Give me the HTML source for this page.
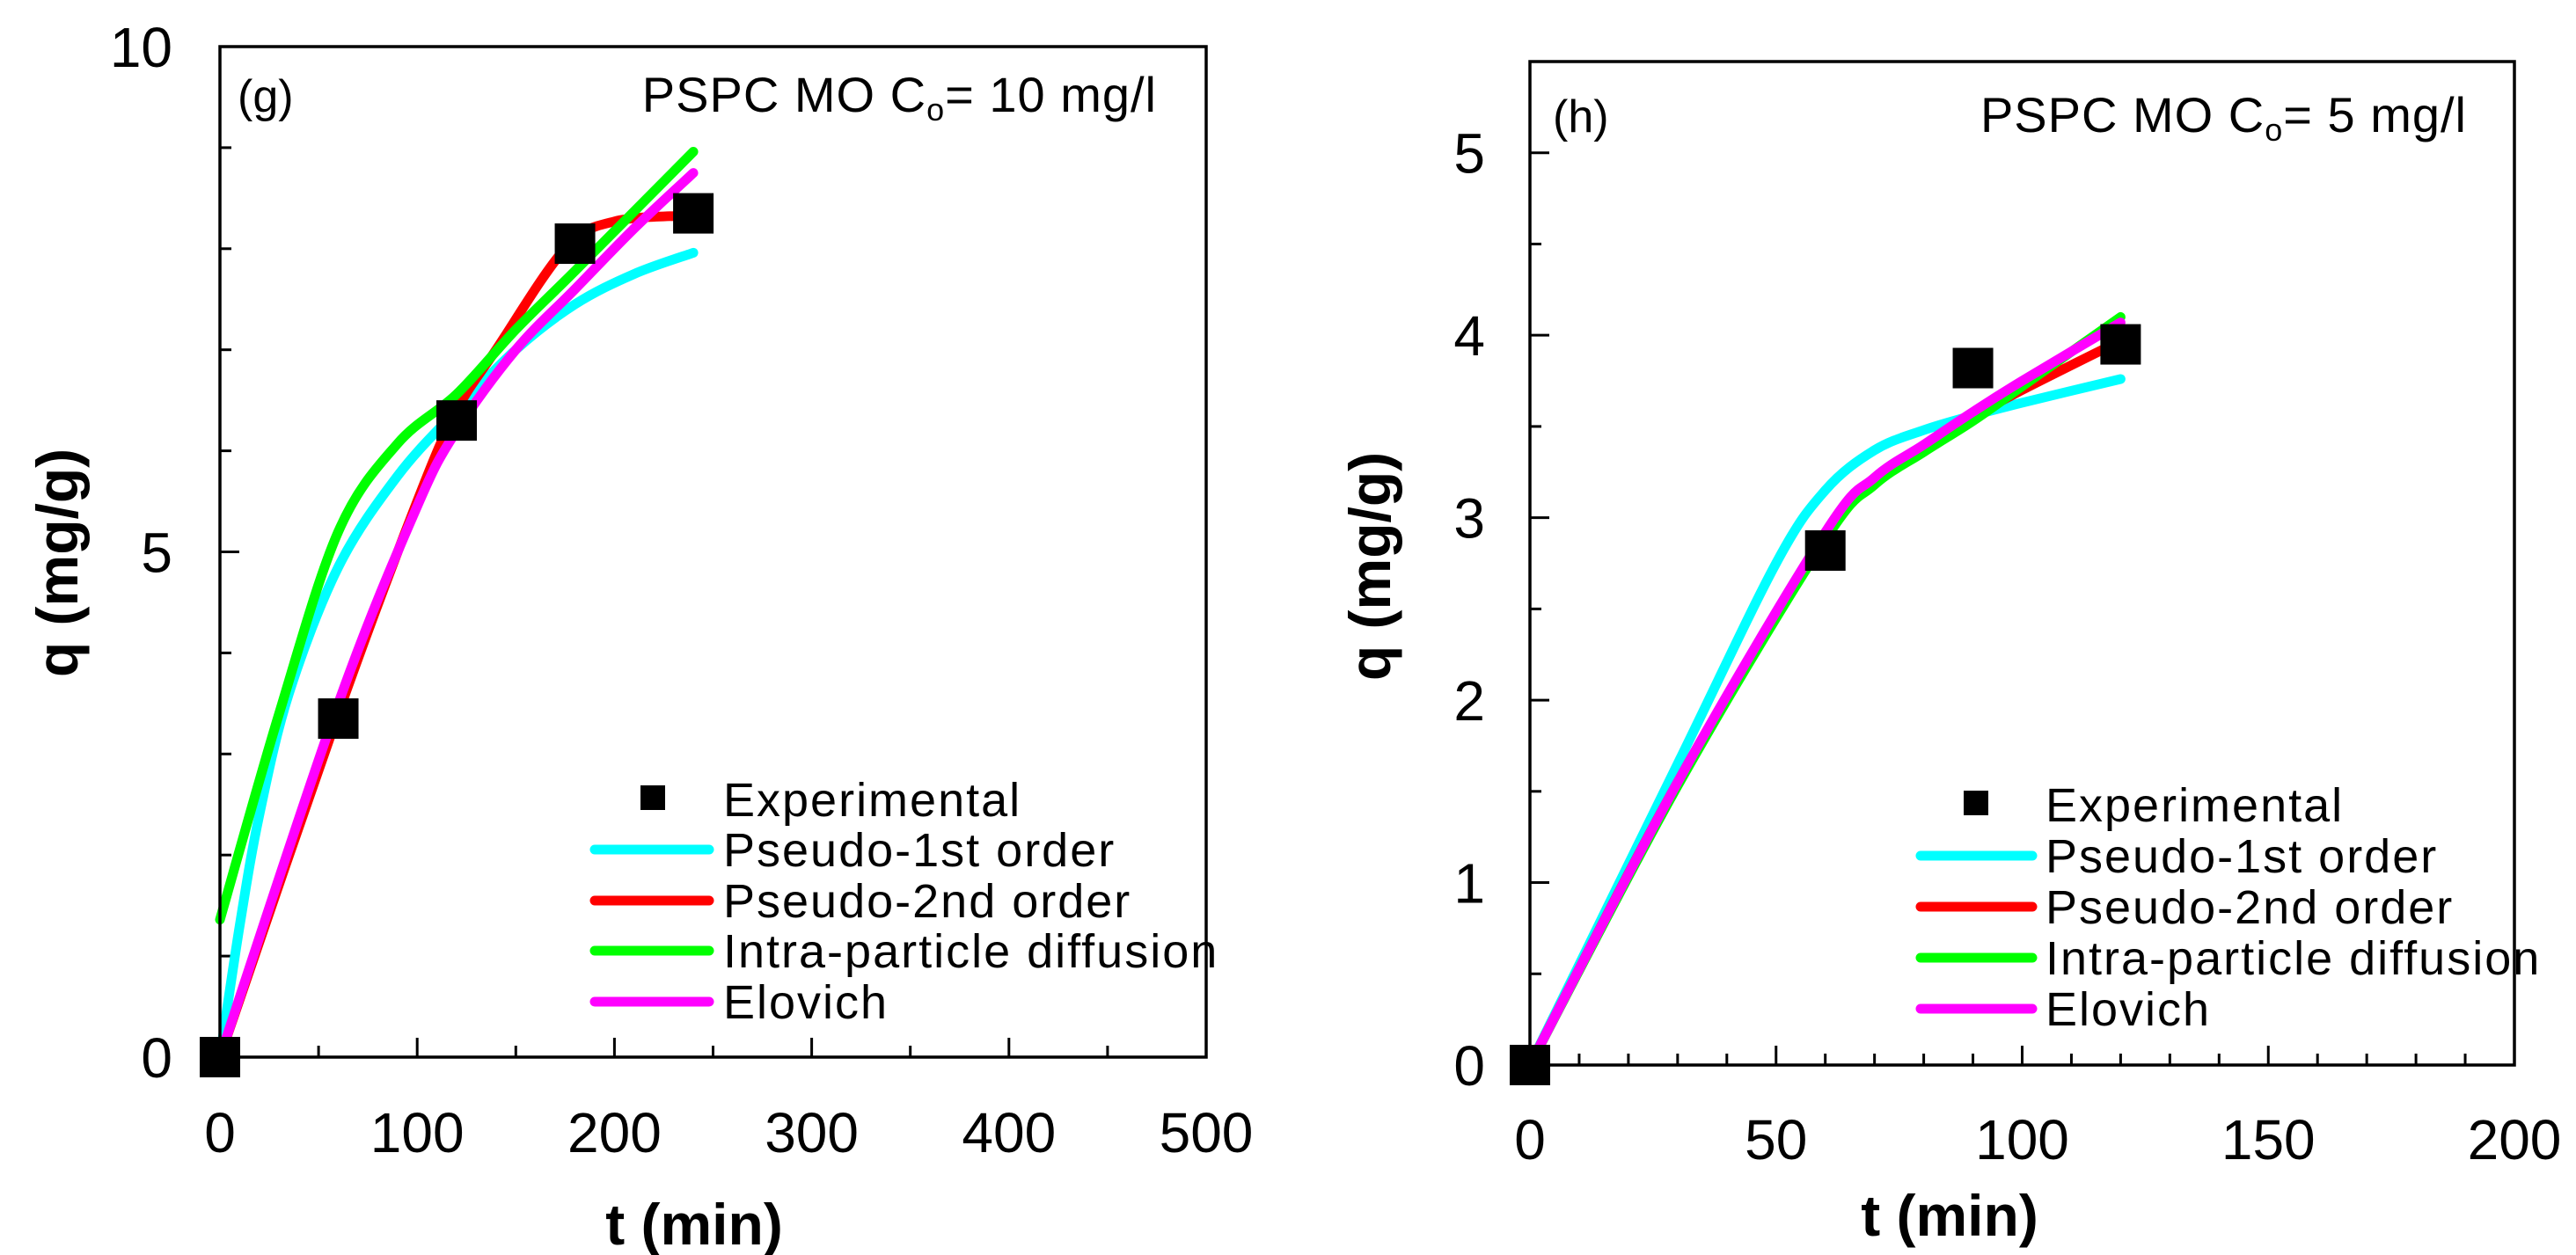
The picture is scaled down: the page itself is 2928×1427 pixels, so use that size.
<!DOCTYPE html>
<html><head><meta charset="utf-8"><style>
html,body{margin:0;padding:0;background:#fff}
svg{display:block;font-family:"Liberation Sans",Arial,sans-serif}
</style></head><body>
<svg id="c" width="2928" height="1427" viewBox="0 0 2928 1427" xmlns="http://www.w3.org/2000/svg"></svg>
<script>
// ---- Panel g data ----
const gExpT=[0,60,120,180,240];
const gExpQ=[0,3.35,6.3,8.05,8.35];
const gPfoT=[0,10,20,35,60,90,120,150,180,210,240];
const gPfoQ=[0,1.3,2.4,3.6,4.85,5.75,6.4,7.0,7.45,7.75,7.96];
const gPsoT=[0,60,100,120,140,175,200,240];
const gPsoQ=[0,3.4,5.5,6.4,7.0,8.0,8.27,8.33];
const gIpdT=[0,30,60,90,120,150,180,240];
const gIpdQ=[1.36,3.4,5.2,6.07,6.56,7.2,7.78,8.96];
const gElvT=[0,60,100,120,150,180,210,240];
const gElvQ=[0,3.5,5.45,6.2,7.0,7.6,8.2,8.75];
const gXTicks=[0,100,200,300,400,500];
const gYTicks=[0,5,10];
// ---- Panel h data ----
const hExpT=[0,60,90,120];
const hExpQ=[0,2.82,3.82,3.95];
const hPfoT=[0,30,50,60,70,80,90,100,120];
const hPfoQ=[0,1.65,2.75,3.15,3.37,3.48,3.56,3.63,3.76];
const hPsoT=[0,30,60,70,80,90,100,120];
const hPsoQ=[0,1.55,2.9,3.2,3.38,3.55,3.7,3.97];
const hIpdT=[0,30,60,70,80,90,100,120];
const hIpdQ=[0,1.53,2.88,3.18,3.36,3.53,3.72,4.1];
const hElvT=[0,30,60,70,80,90,100,120];
const hElvQ=[0,1.55,2.92,3.22,3.4,3.58,3.75,4.07];
const hXTicks=[0,50,100,150,200];
const hYTicks=[0,1,2,3,4,5];

const NS="http://www.w3.org/2000/svg";
const svg=document.getElementById('c');
function mk(tag,attrs,parent){const e=document.createElementNS(NS,tag);for(const k in attrs)e.setAttribute(k,attrs[k]);(parent||svg).appendChild(e);return e;}
function txt(s,attrs,parent){const e=mk('text',attrs,parent);e.textContent=s;return e;}
function smooth(pts){let d=`M${pts[0][0]},${pts[0][1]}`;for(let i=0;i<pts.length-1;i++){const p0=pts[i-1]||pts[i],p1=pts[i],p2=pts[i+1],p3=pts[i+2]||p2;const c1=[p1[0]+(p2[0]-p0[0])/6,p1[1]+(p2[1]-p0[1])/6],c2=[p2[0]-(p3[0]-p1[0])/6,p2[1]-(p3[1]-p1[1])/6];d+=` C${c1[0]},${c1[1]} ${c2[0]},${c2[1]} ${p2[0]},${p2[1]}`;}return d;}

function panel(o){
  const g=mk('g',{});
  
  
  const X=v=>o.x0+(v-o.xmin)/(o.xmax-o.xmin)*(o.x1-o.x0);
  const Y=v=>o.y0-(v-o.ymin)/(o.ymax-o.ymin)*(o.y0-o.y1);
  for(let v=o.xmin;v<=o.xmax+1e-9;v+=o.xminor){const maj=Math.abs(v/o.xmajor-Math.round(v/o.xmajor))<1e-6;const L=maj?22:13;
    const t=mk('line',{x1:X(v),x2:X(v),y1:o.y0,y2:o.y0-L,stroke:'#000','stroke-width':3},g);}
  for(let v=o.ymin;v<=o.ymax+1e-9;v+=o.yminor){const maj=Math.abs(v/o.ymajor-Math.round(v/o.ymajor))<1e-6;const L=maj?22:13;
    const t=mk('line',{x1:o.x0,x2:o.x0+L,y1:Y(v),y2:Y(v),stroke:'#000','stroke-width':3},g);}
  o.xt.forEach(v=>{const t=txt(String(v),{x:X(v),y:o.xly,'font-size':64,'text-anchor':'middle'},g);});
  o.yt.forEach(v=>{const t=txt(String(v),{x:o.ylx,y:Y(v)+23,'font-size':64,'text-anchor':'end'},g);});
  const cols=['#00ffff','#ff0000','#00ff00','#ff00ff'];
  const names=['pseudo-1st-order-line','pseudo-2nd-order-line','intra-particle-diffusion-line','elovich-line'];
  o.series.forEach((s,i)=>{const p=mk('path',{d:smooth(s[0].map((t,j)=>[X(t),Y(s[1][j])])),fill:'none',stroke:cols[i],'stroke-width':11,'stroke-linecap':'round','stroke-linejoin':'round'},g);
    });
  o.expT.forEach((t,j)=>{const r=mk('rect',{x:X(t)-23,y:Y(o.expQ[j])-23,width:46,height:46,fill:'#000'},g);});
  const f=mk('rect',{x:o.x0,y:o.y1,width:o.x1-o.x0,height:o.y0-o.y1,fill:'none',stroke:'#000','stroke-width':3.5},g);
  
  let t=txt(o.tag,{x:o.tagx,y:o.tagy,'font-size':52},g);
  t=mk('text',{x:o.annx,y:o.tagy,'font-size':56,'text-anchor':'end','letter-spacing':'1'},g);
  t.innerHTML=`PSPC MO C<tspan font-size="36" dy="10">o</tspan><tspan dy="-10">= ${o.conc} mg/l</tspan>`;
  t=txt('q (mg/g)',{x:0,y:0,'font-size':66,'font-weight':'bold','text-anchor':'middle',transform:`translate(${o.ytx},${o.yty}) rotate(-90)`},g);
  t=txt('t (min)',{x:o.xtx,y:o.xty,'font-size':66,'font-weight':'bold','text-anchor':'middle'},g);
  const lg=mk('g',{},g);
  const labels=['Experimental','Pseudo-1st order','Pseudo-2nd order','Intra-particle diffusion','Elovich'];
  labels.forEach((l,i)=>{const cy=o.ly[i];
    if(i===0){const m=mk('rect',{x:o.lmx-14,y:cy-16,width:28,height:28,fill:'#000'},lg);}
    else{const m=mk('line',{x1:o.ll0,x2:o.ll1,y1:cy,y2:cy,stroke:cols[i-1],'stroke-width':11,'stroke-linecap':'round'},lg);}
    const e=txt(l,{x:o.ltx,y:cy+19,'font-size':54,'letter-spacing':'2'},lg);});
}
panel({name:'panel-g',x0:250,x1:1371,y0:1202,y1:53,xmin:0,xmax:500,ymin:0,ymax:10,xmajor:100,xminor:50,ymajor:5,yminor:1,
  xt:gXTicks,yt:gYTicks,xly:1310,ylx:196,expT:gExpT,expQ:gExpQ,
  series:[[gPfoT,gPfoQ],[gPsoT,gPsoQ],[gIpdT,gIpdQ],[gElvT,gElvQ]],
  tag:'(g)',tagx:270,tagy:127,annx:1315,conc:'10',ytx:88,yty:640,xtx:789,xty:1415,
  ly:[909,966,1024,1081,1139],lmx:742,ll0:676,ll1:806,ltx:822});
panel({name:'panel-h',x0:1739,x1:2858,y0:1211,y1:70,xmin:0,xmax:200,ymin:0,ymax:5.5,xmajor:50,xminor:10,ymajor:1,yminor:0.5,
  xt:hXTicks,yt:hYTicks,xly:1318,ylx:1688,expT:hExpT,expQ:hExpQ,
  series:[[hPfoT,hPfoQ],[hPsoT,hPsoQ],[hIpdT,hIpdQ],[hElvT,hElvQ]],
  tag:'(h)',tagx:1765,tagy:150,annx:2804,conc:'5',ytx:1580,yty:644,xtx:2216,xty:1405,
  ly:[915,973,1031,1089,1147],lmx:2246,ll0:2183,ll1:2310,ltx:2325});
</script>
</body></html>
